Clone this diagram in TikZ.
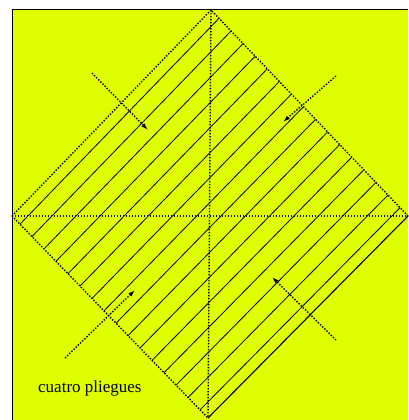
\documentclass[tikz,border=0pt]{standalone}
\usepackage{fontspec}
\setmainfont{Liberation Serif}
\usetikzlibrary{arrows.meta,calc}
\definecolor{paperbg}{RGB}{224,255,0}

\begin{document}
\begin{tikzpicture}[x=1pt, y=-1pt, >={Latex[length=7pt,width=4.5pt]},
  fold/.style={line width=1.4pt, dash pattern=on 1.4pt off 1.6pt},
  hatch/.style={line width=0.8pt},
  push/.style={->, line width=1.4pt, dash pattern=on 1.4pt off 1.6pt},
  lbl/.style={font=\fontsize{17}{20}\selectfont, anchor=base west, inner sep=0pt}]
  \useasboundingbox (0,0) rectangle (408,420);
  \fill[paperbg] (12,10) rectangle (408,420);
  \draw[line width=1pt] (12,420) -- (12,10) -- (408,10);
  % corners of the folded square
  \coordinate (t) at (211,10);
  \coordinate (l) at (12,216);
  \coordinate (r) at (408,216);
  \coordinate (b) at (208,418);
  % hatching
  \foreach \k in {0,...,15} {
    \pgfmathsetmacro{\f}{(8+12.07*\k)/197}
    \draw[hatch] ($(l)!\f!(b)$) -- ($(t)!\f!(r)$);
  }
  % folds
  \draw[fold] (l) -- (t) -- (r);
  \draw[fold] (l) -- (b);
  \draw[line width=1.1pt] (r) -- (b);
  \draw[fold] (t) -- (b);
  \draw[fold] (l) -- (r);
  % arrows
  \coordinate (a1) at (92,73);   \coordinate (a1e) at (148,130);
  \coordinate (a2) at (336,76);  \coordinate (a2e) at (283,122);
  \coordinate (a3) at (65,358);  \coordinate (a3e) at (135,290);
  \coordinate (a4) at (336,340); \coordinate (a4e) at (272,277);
  \draw[push] (a1) -- (a1e);
  \draw[push] (a2) -- (a2e);
  \draw[push] (a3) -- (a3e);
  \draw[push] (a4) -- (a4e);
  \node[lbl] (txt) at (38,392) {cuatro pliegues};
\end{tikzpicture}
\end{document}
